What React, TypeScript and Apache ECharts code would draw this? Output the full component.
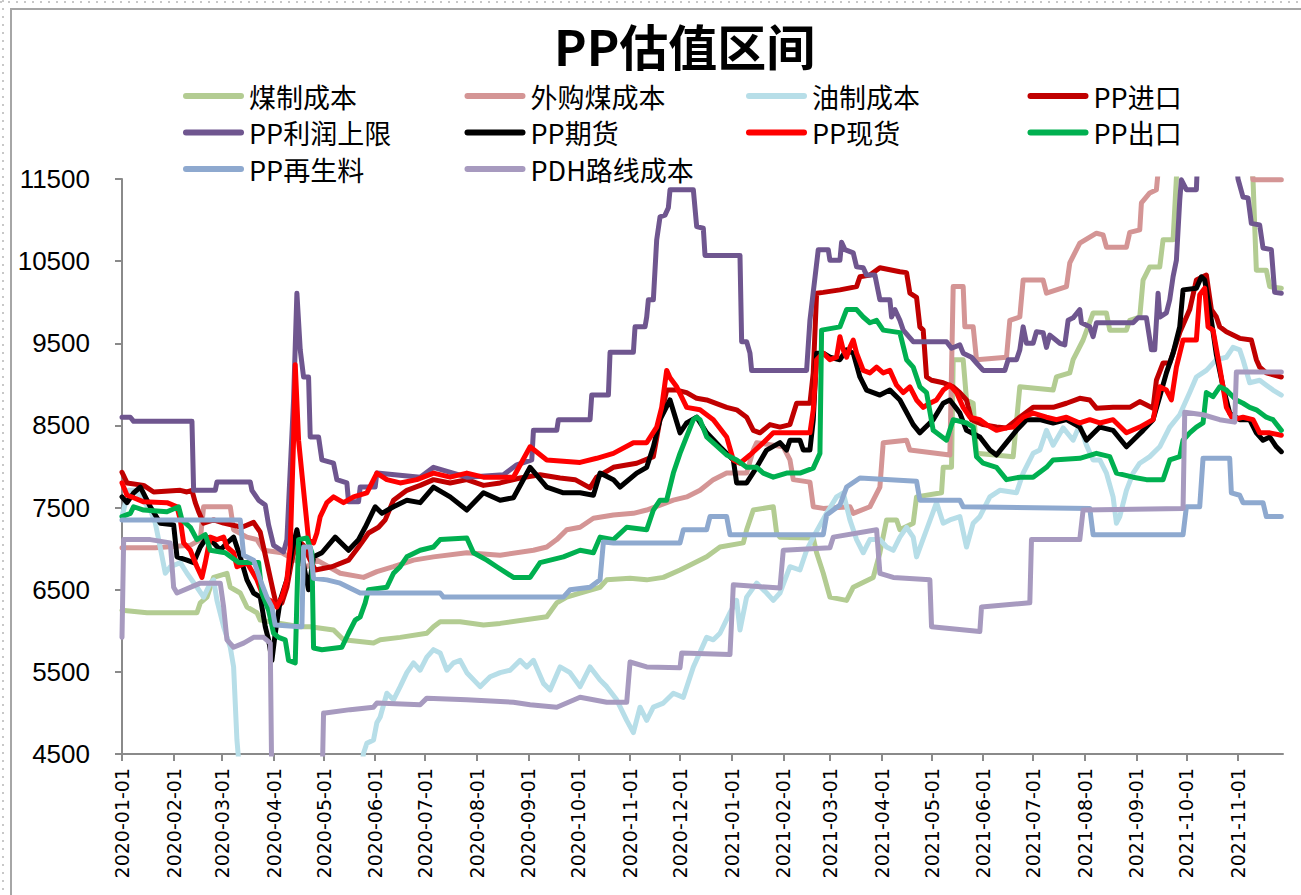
import React, { useEffect, useRef } from 'react';
import * as echarts from 'echarts';

const seriesNames = ['煤制成本', '外购煤成本', '油制成本', 'PP进口', 'PP利润上限', 'PP期货', 'PP现货', 'PP出口', 'PP再生料', 'PDH路线成本'];
const seriesColors = ['#B3CC92', '#D49595', '#B7DEE8', '#C00000', '#6F568F', '#000000', '#FF0000', '#00B050', '#8EA9CF', '#A79ABF'];
const yTickValues = [4500, 5500, 6500, 7500, 8500, 9500, 10500, 11500];
const xTickDates = ['2020-01-01', '2020-02-01', '2020-03-01', '2020-04-01', '2020-05-01', '2020-06-01', '2020-07-01', '2020-08-01', '2020-09-01', '2020-10-01', '2020-11-01', '2020-12-01', '2021-01-01', '2021-02-01', '2021-03-01', '2021-04-01', '2021-05-01', '2021-06-01', '2021-07-01', '2021-08-01', '2021-09-01', '2021-10-01', '2021-11-01'];
const xRange = ['2020-01-01', '2021-11-28'];

type P = [string, number];

const meizhiCost: P[] = [
  ['2020-01-01', 6250], ['2020-01-16', 6220], ['2020-02-15', 6220], ['2020-02-17', 6340], ['2020-02-21', 6410], ['2020-02-25', 6650], ['2020-03-04', 6700], ['2020-03-06', 6530], ['2020-03-12', 6460], ['2020-03-16', 6290], ['2020-03-22', 6220], ['2020-03-24', 6130], ['2020-04-17', 6050], ['2020-04-23', 6050], ['2020-05-07', 6010], ['2020-05-13', 5890], ['2020-05-31', 5850], ['2020-06-04', 5890], ['2020-06-16', 5920], ['2020-07-02', 5970], ['2020-07-06', 6050], ['2020-07-10', 6110], ['2020-07-22', 6110], ['2020-08-05', 6070], ['2020-08-15', 6090], ['2020-09-12', 6170], ['2020-09-18', 6340], ['2020-09-24', 6410], ['2020-10-02', 6460], ['2020-10-14', 6530], ['2020-10-18', 6620], ['2020-11-01', 6640], ['2020-11-11', 6620], ['2020-11-21', 6650], ['2020-12-01', 6740], ['2020-12-05', 6780], ['2020-12-17', 6900], ['2020-12-25', 7020], ['2021-01-08', 7070], ['2021-01-10', 7230], ['2021-01-14', 7470], ['2021-01-26', 7510], ['2021-01-28', 7190], ['2021-01-30', 7140], ['2021-02-19', 7130], ['2021-02-21', 6950], ['2021-02-25', 6700], ['2021-03-01', 6410], ['2021-03-11', 6370], ['2021-03-15', 6530], ['2021-03-27', 6650], ['2021-03-31', 6950], ['2021-04-04', 7350], ['2021-04-10', 7350], ['2021-04-12', 7230], ['2021-04-20', 7310], ['2021-04-22', 7630], ['2021-05-07', 7680], ['2021-05-08', 7990], ['2021-05-13', 7990], ['2021-05-14', 9300], ['2021-05-20', 9300], ['2021-05-22', 8810], ['2021-05-26', 8770], ['2021-05-28', 8160], ['2021-06-19', 8120], ['2021-06-23', 8970], ['2021-07-13', 8930], ['2021-07-15', 9090], ['2021-07-23', 9140], ['2021-07-25', 9300], ['2021-07-31', 9540], ['2021-08-06', 9870], ['2021-08-14', 9870], ['2021-08-16', 9660], ['2021-08-26', 9660], ['2021-08-28', 9780], ['2021-09-03', 9820], ['2021-09-05', 10270], ['2021-09-09', 10430], ['2021-09-15', 10430], ['2021-09-17', 10760], ['2021-09-23', 10760], ['2021-09-25', 11510], ['2021-09-26', 11900], ['2021-11-08', 11900], ['2021-11-10', 11490], ['2021-11-12', 10390], ['2021-11-18', 10390], ['2021-11-20', 10190], ['2021-11-27', 10170],
];

const waigouMeiCost: P[] = [
  ['2020-01-01', 7010], ['2020-01-21', 7010], ['2020-02-11', 7040], ['2020-02-17', 7110], ['2020-02-19', 7510], ['2020-03-06', 7510], ['2020-03-08', 7230], ['2020-03-16', 7140], ['2020-03-22', 7110], ['2020-03-26', 6980], ['2020-04-06', 6950], ['2020-04-21', 6780], ['2020-04-27', 6860], ['2020-05-11', 6700], ['2020-05-25', 6650], ['2020-06-02', 6720], ['2020-06-12', 6780], ['2020-06-24', 6860], ['2020-07-06', 6900], ['2020-07-26', 6950], ['2020-08-15', 6920], ['2020-09-04', 6980], ['2020-09-12', 7020], ['2020-09-18', 7110], ['2020-09-24', 7230], ['2020-10-02', 7260], ['2020-10-10', 7370], ['2020-10-22', 7410], ['2020-11-03', 7430], ['2020-11-11', 7470], ['2020-11-19', 7530], ['2020-11-27', 7590], ['2020-12-05', 7630], ['2020-12-13', 7710], ['2020-12-21', 7840], ['2020-12-29', 7920], ['2021-01-10', 7920], ['2021-01-14', 8200], ['2021-01-16', 8290], ['2021-02-01', 8240], ['2021-02-05', 8080], ['2021-02-07', 7840], ['2021-02-17', 7810], ['2021-02-19', 7510], ['2021-02-25', 7490], ['2021-03-13', 7510], ['2021-03-15', 7430], ['2021-03-25', 7510], ['2021-03-31', 7750], ['2021-04-02', 8290], ['2021-04-16', 8320], ['2021-04-18', 8200], ['2021-05-12', 8140], ['2021-05-14', 10190], ['2021-05-20', 10190], ['2021-05-21', 9700], ['2021-05-26', 9700], ['2021-05-28', 9300], ['2021-06-15', 9330], ['2021-06-17', 9780], ['2021-06-23', 9820], ['2021-06-25', 10270], ['2021-07-07', 10270], ['2021-07-09', 10110], ['2021-07-21', 10190], ['2021-07-23', 10480], ['2021-07-29', 10720], ['2021-08-08', 10840], ['2021-08-12', 10820], ['2021-08-14', 10670], ['2021-08-26', 10670], ['2021-08-28', 10850], ['2021-09-03', 10880], ['2021-09-04', 11210], ['2021-09-09', 11330], ['2021-09-13', 11370], ['2021-09-15', 11800], ['2021-11-09', 11800], ['2021-11-10', 11490], ['2021-11-27', 11490],
];

const youzhiCost: P[] = [
  ['2020-01-01', 7390], ['2020-01-05', 7710], ['2020-01-09', 7710], ['2020-01-18', 7470], ['2020-01-21', 7310], ['2020-01-23', 7110], ['2020-01-27', 6700], ['2020-01-30', 6780], ['2020-02-05', 6830], ['2020-02-09', 6700], ['2020-02-15', 6530], ['2020-02-19', 6410], ['2020-02-23', 6580], ['2020-02-25', 6620], ['2020-02-27', 6370], ['2020-03-02', 6050], ['2020-03-06', 5800], ['2020-03-08', 5560], ['2020-03-10', 4670], ['2020-03-12', 4200], ['2020-05-23', 4200], ['2020-05-25', 4510], ['2020-05-27', 4630], ['2020-05-31', 4670], ['2020-06-02', 4880], ['2020-06-04', 4950], ['2020-06-08', 5240], ['2020-06-12', 5160], ['2020-06-16', 5320], ['2020-06-20', 5490], ['2020-06-24', 5610], ['2020-06-28', 5520], ['2020-07-02', 5680], ['2020-07-06', 5770], ['2020-07-10', 5730], ['2020-07-14', 5520], ['2020-07-18', 5610], ['2020-07-22', 5640], ['2020-07-26', 5490], ['2020-08-03', 5320], ['2020-08-09', 5440], ['2020-08-15', 5490], ['2020-08-21', 5520], ['2020-08-27', 5640], ['2020-08-31', 5560], ['2020-09-04', 5640], ['2020-09-10', 5360], ['2020-09-14', 5280], ['2020-09-20', 5560], ['2020-09-26', 5490], ['2020-10-02', 5320], ['2020-10-08', 5560], ['2020-10-14', 5400], ['2020-10-18', 5320], ['2020-10-24', 5160], ['2020-10-30', 4910], ['2020-11-03', 4760], ['2020-11-07', 5070], ['2020-11-11', 4910], ['2020-11-15', 5070], ['2020-11-21', 5120], ['2020-11-27', 5240], ['2020-12-03', 5190], ['2020-12-09', 5560], ['2020-12-17', 5920], ['2020-12-21', 5890], ['2020-12-25', 5970], ['2020-12-31', 6220], ['2021-01-04', 6370], ['2021-01-06', 6010], ['2021-01-10', 6410], ['2021-01-16', 6580], ['2021-01-22', 6460], ['2021-01-26', 6370], ['2021-01-30', 6460], ['2021-02-05', 6780], ['2021-02-11', 6740], ['2021-02-15', 6980], ['2021-02-19', 7140], ['2021-02-27', 7430], ['2021-03-05', 7630], ['2021-03-09', 7680], ['2021-03-13', 7350], ['2021-03-17', 7110], ['2021-03-21', 6950], ['2021-03-25', 7110], ['2021-03-31', 7110], ['2021-04-04', 7020], ['2021-04-08', 6980], ['2021-04-12', 7140], ['2021-04-16', 7260], ['2021-04-20', 7140], ['2021-04-22', 6900], ['2021-04-28', 7230], ['2021-05-04', 7560], ['2021-05-08', 7310], ['2021-05-12', 7350], ['2021-05-18', 7390], ['2021-05-22', 7020], ['2021-05-26', 7310], ['2021-05-30', 7390], ['2021-06-05', 7630], ['2021-06-11', 7710], ['2021-06-21', 7680], ['2021-06-25', 7920], ['2021-07-01', 8160], ['2021-07-05', 8200], ['2021-07-09', 8440], ['2021-07-13', 8260], ['2021-07-19', 8470], ['2021-07-25', 8320], ['2021-07-29', 8510], ['2021-08-02', 8260], ['2021-08-06', 8080], ['2021-08-10', 8080], ['2021-08-14', 7920], ['2021-08-18', 7630], ['2021-08-20', 7310], ['2021-08-22', 7390], ['2021-08-26', 7710], ['2021-08-30', 7920], ['2021-09-03', 8040], ['2021-09-09', 8120], ['2021-09-15', 8240], ['2021-09-21', 8480], ['2021-09-27', 8630], ['2021-10-03', 8900], ['2021-10-07', 9090], ['2021-10-13', 9170], ['2021-10-19', 9300], ['2021-10-25', 9330], ['2021-10-29', 9450], ['2021-11-02', 9420], ['2021-11-04', 9300], ['2021-11-08', 9020], ['2021-11-14', 9050], ['2021-11-18', 8990], ['2021-11-22', 8930], ['2021-11-27', 8870],
];

const ppImport: P[] = [
  ['2020-01-01', 7930], ['2020-01-04', 7800], ['2020-01-14', 7770], ['2020-01-20', 7690], ['2020-02-05', 7710], ['2020-02-09', 7690], ['2020-02-12', 7710], ['2020-02-14', 7560], ['2020-02-16', 7450], ['2020-02-19', 7310], ['2020-02-25', 7350], ['2020-03-02', 7310], ['2020-03-13', 7260], ['2020-03-20', 7320], ['2020-03-24', 7200], ['2020-03-28', 6830], ['2020-04-01', 6460], ['2020-04-03', 6290], ['2020-04-06', 6340], ['2020-04-09', 6530], ['2020-04-12', 6860], ['2020-04-15', 7110], ['2020-04-19', 7040], ['2020-04-23', 6860], ['2020-04-26', 6740], ['2020-05-06', 6780], ['2020-05-16', 6860], ['2020-05-22', 7020], ['2020-05-28', 7190], ['2020-06-03', 7260], ['2020-06-07', 7350], ['2020-06-12', 7590], ['2020-06-20', 7710], ['2020-06-28', 7770], ['2020-07-06', 7840], ['2020-07-16', 7800], ['2020-07-26', 7840], ['2020-08-05', 7770], ['2020-08-15', 7800], ['2020-08-27', 7860], ['2020-09-08', 7900], ['2020-09-20', 7860], ['2020-09-29', 7840], ['2020-10-08', 7740], ['2020-10-12', 7870], ['2020-10-22', 7990], ['2020-11-05', 8040], ['2020-11-15', 8120], ['2020-11-19', 8570], ['2020-11-23', 8930], ['2020-11-29', 8930], ['2020-12-05', 8900], ['2020-12-11', 8830], ['2020-12-17', 8810], ['2020-12-29', 8720], ['2021-01-04', 8690], ['2021-01-10', 8600], ['2021-01-14', 8440], ['2021-01-18', 8410], ['2021-01-24', 8510], ['2021-01-30', 8480], ['2021-02-05', 8510], ['2021-02-09', 8770], ['2021-02-17', 8770], ['2021-02-19', 9140], ['2021-02-21', 10110], ['2021-02-25', 10120], ['2021-03-07', 10150], ['2021-03-17', 10190], ['2021-03-19', 10310], ['2021-03-25', 10330], ['2021-03-31', 10420], ['2021-04-12', 10370], ['2021-04-16', 10360], ['2021-04-18', 10110], ['2021-04-22', 10060], ['2021-04-24', 9700], ['2021-04-26', 9660], ['2021-04-28', 9090], ['2021-05-01', 9050], ['2021-05-08', 9020], ['2021-05-14', 8970], ['2021-05-18', 8900], ['2021-05-22', 8810], ['2021-05-25', 8570], ['2021-06-01', 8510], ['2021-06-09', 8480], ['2021-06-15', 8470], ['2021-06-23', 8600], ['2021-07-01', 8720], ['2021-07-13', 8720], ['2021-07-21', 8770], ['2021-07-29', 8830], ['2021-08-04', 8810], ['2021-08-08', 8710], ['2021-08-18', 8720], ['2021-08-28', 8720], ['2021-09-03', 8790], ['2021-09-11', 8710], ['2021-09-13', 9050], ['2021-09-17', 9260], ['2021-09-21', 9260], ['2021-09-23', 9380], ['2021-09-27', 9630], ['2021-10-03', 9910], ['2021-10-07', 10270], ['2021-10-13', 10330], ['2021-10-16', 9910], ['2021-10-19', 9820], ['2021-10-21', 9700], ['2021-10-25', 9640], ['2021-11-02', 9560], ['2021-11-09', 9540], ['2021-11-12', 9300], ['2021-11-14', 9210], ['2021-11-18', 9140], ['2021-11-27', 9090],
];

const ppProfitCap: P[] = [
  ['2020-01-01', 8600], ['2020-01-06', 8600], ['2020-01-08', 8550], ['2020-02-12', 8550], ['2020-02-13', 7710], ['2020-02-26', 7710], ['2020-02-27', 7810], ['2020-03-18', 7810], ['2020-03-19', 7710], ['2020-03-23', 7590], ['2020-03-27', 7530], ['2020-03-29', 7290], ['2020-04-01', 7040], ['2020-04-07', 6960], ['2020-04-09', 7110], ['2020-04-13', 8810], ['2020-04-15', 10110], ['2020-04-17', 9420], ['2020-04-19', 9090], ['2020-04-22', 9090], ['2020-04-23', 8360], ['2020-04-28', 8360], ['2020-04-30', 8080], ['2020-05-07', 8040], ['2020-05-09', 7840], ['2020-05-15', 7800], ['2020-05-16', 7570], ['2020-05-22', 7570], ['2020-05-23', 7750], ['2020-06-01', 7750], ['2020-06-02', 7920], ['2020-06-28', 7870], ['2020-07-06', 7990], ['2020-07-26', 7870], ['2020-08-17', 7900], ['2020-08-25', 8020], ['2020-09-03', 8080], ['2020-09-04', 8440], ['2020-09-18', 8440], ['2020-09-19', 8570], ['2020-10-08', 8570], ['2020-10-09', 8870], ['2020-10-19', 8870], ['2020-10-20', 9390], ['2020-11-03', 9390], ['2020-11-04', 9700], ['2020-11-10', 9700], ['2020-11-11', 9820], ['2020-11-12', 10030], ['2020-11-15', 10030], ['2020-11-17', 10760], ['2020-11-19', 11040], ['2020-11-22', 11060], ['2020-11-24', 11150], ['2020-11-25', 11370], ['2020-12-09', 11370], ['2020-12-11', 10920], ['2020-12-15', 10900], ['2020-12-16', 10570], ['2021-01-06', 10570], ['2021-01-07', 9520], ['2021-01-10', 9520], ['2021-01-12', 9380], ['2021-01-13', 9170], ['2021-02-15', 9170], ['2021-02-17', 9780], ['2021-02-22', 10640], ['2021-02-28', 10640], ['2021-03-01', 10510], ['2021-03-07', 10510], ['2021-03-08', 10730], ['2021-03-10', 10640], ['2021-03-15', 10600], ['2021-03-17', 10430], ['2021-03-21', 10420], ['2021-03-23', 10330], ['2021-03-28', 10330], ['2021-03-31', 10030], ['2021-04-06', 10030], ['2021-04-07', 9820], ['2021-04-09', 9910], ['2021-04-12', 9780], ['2021-04-14', 9660], ['2021-04-20', 9520], ['2021-05-10', 9520], ['2021-05-13', 9440], ['2021-05-18', 9480], ['2021-05-20', 9380], ['2021-05-25', 9330], ['2021-05-28', 9260], ['2021-06-01', 9170], ['2021-06-14', 9170], ['2021-06-16', 9300], ['2021-06-21', 9300], ['2021-06-23', 9420], ['2021-06-25', 9700], ['2021-06-27', 9500], ['2021-07-01', 9500], ['2021-07-03', 9640], ['2021-07-07', 9630], ['2021-07-09', 9450], ['2021-07-11', 9600], ['2021-07-17', 9500], ['2021-07-20', 9480], ['2021-07-22', 9780], ['2021-07-25', 9810], ['2021-07-29', 9910], ['2021-07-30', 9750], ['2021-08-04', 9700], ['2021-08-06', 9580], ['2021-08-08', 9750], ['2021-08-30', 9750], ['2021-09-02', 9810], ['2021-09-07', 9810], ['2021-09-10', 9420], ['2021-09-12', 9420], ['2021-09-14', 10110], ['2021-09-15', 9820], ['2021-09-19', 9870], ['2021-09-21', 10030], ['2021-09-23', 10310], ['2021-09-25', 10510], ['2021-09-27', 11240], ['2021-09-28', 11490], ['2021-10-01', 11370], ['2021-10-07', 11370], ['2021-10-08', 11900], ['2021-10-30', 11900], ['2021-11-01', 11500], ['2021-11-04', 11280], ['2021-11-07', 11270], ['2021-11-09', 10960], ['2021-11-14', 10940], ['2021-11-16', 10660], ['2021-11-21', 10640], ['2021-11-23', 10120], ['2021-11-27', 10110],
];

const ppFutures: P[] = [
  ['2020-01-01', 7630], ['2020-01-04', 7560], ['2020-01-08', 7680], ['2020-01-12', 7750], ['2020-01-15', 7630], ['2020-01-18', 7510], ['2020-01-24', 7310], ['2020-02-01', 7290], ['2020-02-03', 6900], ['2020-02-09', 6860], ['2020-02-13', 6830], ['2020-02-17', 7020], ['2020-02-21', 7140], ['2020-02-25', 7070], ['2020-02-29', 6980], ['2020-03-04', 7070], ['2020-03-08', 7140], ['2020-03-12', 6900], ['2020-03-16', 6620], ['2020-03-20', 6460], ['2020-03-24', 6410], ['2020-03-27', 6050], ['2020-03-29', 5890], ['2020-03-31', 5640], ['2020-04-02', 5970], ['2020-04-05', 6370], ['2020-04-09', 6620], ['2020-04-12', 6980], ['2020-04-15', 7230], ['2020-04-17', 7020], ['2020-04-20', 6700], ['2020-04-22', 6500], ['2020-04-25', 6900], ['2020-04-30', 6950], ['2020-05-08', 7140], ['2020-05-16', 6980], ['2020-05-22', 7110], ['2020-05-26', 7260], ['2020-06-01', 7510], ['2020-06-05', 7430], ['2020-06-12', 7510], ['2020-06-20', 7590], ['2020-06-28', 7560], ['2020-07-06', 7750], ['2020-07-16', 7630], ['2020-07-26', 7470], ['2020-08-05', 7680], ['2020-08-15', 7590], ['2020-08-23', 7620], ['2020-09-02', 7990], ['2020-09-12', 7750], ['2020-09-22', 7680], ['2020-10-02', 7680], ['2020-10-10', 7650], ['2020-10-14', 7920], ['2020-10-22', 7840], ['2020-10-26', 7750], ['2020-11-05', 7920], ['2020-11-11', 7990], ['2020-11-15', 8240], ['2020-11-19', 8570], ['2020-11-25', 8810], ['2020-12-01', 8410], ['2020-12-05', 8530], ['2020-12-11', 8600], ['2020-12-17', 8410], ['2020-12-25', 8240], ['2021-01-02', 8080], ['2021-01-04', 7800], ['2021-01-10', 7800], ['2021-01-16', 7990], ['2021-01-22', 8200], ['2021-01-30', 8290], ['2021-02-03', 8200], ['2021-02-05', 8320], ['2021-02-11', 8320], ['2021-02-13', 8200], ['2021-02-17', 8200], ['2021-02-19', 8570], ['2021-02-21', 9380], ['2021-02-25', 9380], ['2021-03-01', 9330], ['2021-03-07', 9300], ['2021-03-11', 9420], ['2021-03-15', 9380], ['2021-03-19', 9090], ['2021-03-23', 8930], ['2021-03-31', 8870], ['2021-04-06', 8930], ['2021-04-12', 8810], ['2021-04-20', 8510], ['2021-04-24', 8410], ['2021-05-02', 8570], ['2021-05-08', 8770], ['2021-05-12', 8810], ['2021-05-18', 8650], ['2021-05-22', 8440], ['2021-05-30', 8360], ['2021-06-05', 8200], ['2021-06-09', 8140], ['2021-06-15', 8290], ['2021-06-21', 8440], ['2021-06-27', 8570], ['2021-07-05', 8570], ['2021-07-13', 8530], ['2021-07-21', 8570], ['2021-07-29', 8480], ['2021-08-02', 8320], ['2021-08-10', 8480], ['2021-08-18', 8440], ['2021-08-26', 8240], ['2021-08-30', 8320], ['2021-09-05', 8440], ['2021-09-11', 8570], ['2021-09-15', 8850], ['2021-09-19', 9140], ['2021-09-23', 9380], ['2021-09-27', 9700], ['2021-09-29', 10150], ['2021-10-07', 10170], ['2021-10-10', 10310], ['2021-10-12', 10270], ['2021-10-16', 9780], ['2021-10-19', 9360], ['2021-10-23', 8970], ['2021-10-27', 8650], ['2021-11-02', 8570], ['2021-11-08', 8570], ['2021-11-12', 8410], ['2021-11-16', 8320], ['2021-11-20', 8360], ['2021-11-24', 8240], ['2021-11-27', 8180],
];

const ppSpot: P[] = [
  ['2020-01-01', 7800], ['2020-01-04', 7650], ['2020-01-08', 7620], ['2020-01-14', 7570], ['2020-01-28', 7560], ['2020-02-03', 7510], ['2020-02-05', 7350], ['2020-02-07', 7070], ['2020-02-11', 6980], ['2020-02-15', 6780], ['2020-02-18', 6650], ['2020-02-20', 6830], ['2020-02-23', 7140], ['2020-02-27', 7110], ['2020-03-02', 7140], ['2020-03-04', 7020], ['2020-03-08', 6950], ['2020-03-10', 6780], ['2020-03-16', 6830], ['2020-03-22', 6620], ['2020-03-26', 6410], ['2020-03-30', 6370], ['2020-04-03', 6290], ['2020-04-06', 6410], ['2020-04-09', 6620], ['2020-04-11', 7020], ['2020-04-13', 8320], ['2020-04-14', 9240], ['2020-04-16', 8320], ['2020-04-19', 7710], ['2020-04-22', 7110], ['2020-04-25', 7070], ['2020-04-27', 7190], ['2020-04-29', 7390], ['2020-05-03', 7560], ['2020-05-07', 7630], ['2020-05-13', 7560], ['2020-05-19', 7630], ['2020-05-27', 7680], ['2020-06-02', 7920], ['2020-06-08', 7840], ['2020-06-16', 7800], ['2020-06-26', 7840], ['2020-07-06', 7920], ['2020-07-16', 7870], ['2020-07-26', 7920], ['2020-08-05', 7870], ['2020-08-15', 7870], ['2020-08-23', 7870], ['2020-09-02', 8240], ['2020-09-12', 8080], ['2020-10-02', 8050], ['2020-10-12', 8100], ['2020-10-22', 8160], ['2020-11-03', 8290], ['2020-11-11', 8290], ['2020-11-17', 8480], ['2020-11-20', 8720], ['2020-11-23', 9170], ['2020-11-25', 9080], ['2020-11-29', 8970], ['2020-12-05', 8720], ['2020-12-13', 8690], ['2020-12-21', 8570], ['2020-12-29', 8360], ['2021-01-02', 8080], ['2021-01-06', 8040], ['2021-01-12', 8140], ['2021-01-20', 8290], ['2021-01-26', 8410], ['2021-02-17', 8410], ['2021-02-19', 8690], ['2021-02-21', 9300], ['2021-02-25', 9380], ['2021-03-01', 9300], ['2021-03-05', 9330], ['2021-03-07', 9580], ['2021-03-09', 9420], ['2021-03-11', 9330], ['2021-03-13', 9450], ['2021-03-15', 9540], ['2021-03-17', 9380], ['2021-03-21', 9170], ['2021-03-25', 9140], ['2021-03-29', 9210], ['2021-04-02', 9140], ['2021-04-06', 9170], ['2021-04-10', 8990], ['2021-04-14', 8900], ['2021-04-18', 8970], ['2021-04-22', 8810], ['2021-04-26', 8720], ['2021-04-30', 8770], ['2021-05-04', 8810], ['2021-05-08', 8930], ['2021-05-12', 8990], ['2021-05-16', 8900], ['2021-05-20', 8720], ['2021-05-24', 8600], ['2021-05-30', 8570], ['2021-06-03', 8510], ['2021-06-09', 8440], ['2021-06-15', 8470], ['2021-06-19', 8480], ['2021-06-25', 8600], ['2021-07-01', 8650], ['2021-07-09', 8600], ['2021-07-15', 8570], ['2021-07-21', 8600], ['2021-07-29', 8530], ['2021-08-04', 8570], ['2021-08-10', 8530], ['2021-08-18', 8570], ['2021-08-26', 8410], ['2021-09-03', 8480], ['2021-09-11', 8570], ['2021-09-15', 8970], ['2021-09-19', 8930], ['2021-09-22', 8810], ['2021-09-25', 9210], ['2021-09-29', 9540], ['2021-10-07', 9540], ['2021-10-09', 10090], ['2021-10-12', 10170], ['2021-10-14', 9700], ['2021-10-17', 9660], ['2021-10-21', 9210], ['2021-10-25', 8720], ['2021-10-29', 8570], ['2021-11-04', 8600], ['2021-11-10', 8570], ['2021-11-14', 8410], ['2021-11-20', 8410], ['2021-11-27', 8380],
];

const ppExport: P[] = [
  ['2020-01-01', 7390], ['2020-01-06', 7430], ['2020-01-08', 7510], ['2020-01-14', 7470], ['2020-01-28', 7450], ['2020-02-04', 7510], ['2020-02-06', 7350], ['2020-02-11', 7260], ['2020-02-15', 7110], ['2020-02-20', 7170], ['2020-02-23', 6980], ['2020-03-03', 6950], ['2020-03-11', 6830], ['2020-03-23', 6830], ['2020-03-25', 6460], ['2020-03-29', 6250], ['2020-04-01', 5970], ['2020-04-04', 5920], ['2020-04-08', 5890], ['2020-04-10', 5640], ['2020-04-14', 5610], ['2020-04-15', 6370], ['2020-04-16', 7110], ['2020-04-21', 7130], ['2020-04-24', 6950], ['2020-04-25', 5790], ['2020-04-30', 5770], ['2020-05-12', 5800], ['2020-05-16', 5970], ['2020-05-20', 6130], ['2020-05-23', 6170], ['2020-05-26', 6340], ['2020-05-28', 6500], ['2020-06-08', 6530], ['2020-06-12', 6700], ['2020-06-16', 6780], ['2020-06-20', 6900], ['2020-06-28', 6980], ['2020-07-06', 7020], ['2020-07-10', 7110], ['2020-07-26', 7130], ['2020-07-30', 6950], ['2020-08-07', 6860], ['2020-08-13', 6780], ['2020-08-23', 6650], ['2020-09-02', 6650], ['2020-09-08', 6830], ['2020-09-22', 6900], ['2020-10-02', 6980], ['2020-10-10', 6950], ['2020-10-14', 7140], ['2020-10-22', 7110], ['2020-10-30', 7260], ['2020-11-11', 7230], ['2020-11-15', 7470], ['2020-11-19', 7590], ['2020-11-23', 7590], ['2020-11-27', 7920], ['2020-12-01', 8160], ['2020-12-09', 8570], ['2020-12-11', 8600], ['2020-12-13', 8570], ['2020-12-17', 8360], ['2020-12-29', 8140], ['2021-01-04', 8080], ['2021-01-10', 7990], ['2021-01-16', 7990], ['2021-01-20', 7920], ['2021-01-26', 7870], ['2021-02-03', 7920], ['2021-02-11', 7920], ['2021-02-19', 7980], ['2021-02-23', 8160], ['2021-02-24', 9660], ['2021-03-07', 9700], ['2021-03-11', 9910], ['2021-03-17', 9910], ['2021-03-21', 9820], ['2021-03-25', 9750], ['2021-03-29', 9780], ['2021-04-02', 9660], ['2021-04-12', 9630], ['2021-04-16', 9300], ['2021-04-20', 9210], ['2021-04-24', 8970], ['2021-04-28', 8900], ['2021-05-02', 8440], ['2021-05-10', 8320], ['2021-05-14', 8570], ['2021-05-22', 8530], ['2021-05-26', 8480], ['2021-05-28', 8120], ['2021-06-01', 8040], ['2021-06-09', 7990], ['2021-06-15', 7840], ['2021-06-23', 7870], ['2021-07-01', 7870], ['2021-07-09', 7990], ['2021-07-13', 8080], ['2021-07-29', 8100], ['2021-08-08', 8160], ['2021-08-16', 8120], ['2021-08-20', 7920], ['2021-08-30', 7870], ['2021-09-07', 7840], ['2021-09-17', 7840], ['2021-09-21', 8080], ['2021-09-27', 8120], ['2021-09-29', 8320], ['2021-10-03', 8410], ['2021-10-07', 8480], ['2021-10-11', 8530], ['2021-10-13', 8900], ['2021-10-17', 8850], ['2021-10-21', 8970], ['2021-10-25', 8930], ['2021-10-31', 8810], ['2021-11-04', 8770], ['2021-11-08', 8720], ['2021-11-12', 8690], ['2021-11-18', 8600], ['2021-11-22', 8570], ['2021-11-27', 8440],
];

const ppRecycled: P[] = [
  ['2020-01-01', 7350], ['2020-03-12', 7350], ['2020-03-14', 6920], ['2020-03-20', 6860], ['2020-03-24', 6620], ['2020-03-28', 6410], ['2020-03-31', 6290], ['2020-04-02', 6070], ['2020-04-17', 6050], ['2020-04-18', 6050], ['2020-04-19', 7020], ['2020-04-23', 7020], ['2020-04-25', 6640], ['2020-05-03', 6620], ['2020-05-11', 6580], ['2020-05-19', 6500], ['2020-05-23', 6460], ['2020-07-10', 6460], ['2020-07-12', 6410], ['2020-09-22', 6410], ['2020-09-26', 6500], ['2020-10-08', 6530], ['2020-10-14', 6620], ['2020-10-16', 7080], ['2020-10-22', 7070], ['2020-12-01', 7070], ['2020-12-03', 7230], ['2020-12-17', 7230], ['2020-12-19', 7390], ['2020-12-29', 7390], ['2020-12-31', 7170], ['2021-02-25', 7170], ['2021-02-27', 7410], ['2021-03-07', 7530], ['2021-03-11', 7750], ['2021-03-19', 7860], ['2021-04-22', 7820], ['2021-04-24', 7590], ['2021-05-18', 7590], ['2021-05-20', 7510], ['2021-08-04', 7490], ['2021-08-06', 7170], ['2021-09-29', 7170], ['2021-10-01', 7510], ['2021-10-09', 7510], ['2021-10-11', 8100], ['2021-10-27', 8100], ['2021-10-28', 7680], ['2021-11-02', 7650], ['2021-11-04', 7560], ['2021-11-16', 7560], ['2021-11-18', 7390], ['2021-11-27', 7390],
];

const pdhCost: P[] = [
  ['2020-01-01', 5920], ['2020-01-02', 7110], ['2020-01-18', 7110], ['2020-01-30', 7070], ['2020-02-01', 6530], ['2020-02-03', 6460], ['2020-02-17', 6580], ['2020-02-29', 6580], ['2020-03-02', 6290], ['2020-03-04', 5890], ['2020-03-08', 5800], ['2020-03-14', 5850], ['2020-03-20', 5920], ['2020-03-26', 5920], ['2020-03-30', 5850], ['2020-03-31', 4000], ['2020-04-30', 4000], ['2020-05-01', 5000], ['2020-05-02', 5000], ['2020-05-17', 5040], ['2020-05-31', 5070], ['2020-06-02', 5120], ['2020-06-28', 5100], ['2020-07-02', 5180], ['2020-07-26', 5160], ['2020-08-23', 5130], ['2020-09-02', 5100], ['2020-09-18', 5070], ['2020-10-02', 5190], ['2020-10-18', 5130], ['2020-10-30', 5130], ['2020-11-01', 5620], ['2020-11-11', 5560], ['2020-12-01', 5550], ['2020-12-02', 5730], ['2020-12-31', 5710], ['2021-01-02', 6560], ['2021-01-30', 6520], ['2021-02-01', 6980], ['2021-03-01', 7010], ['2021-03-03', 7140], ['2021-03-29', 7230], ['2021-03-31', 6700], ['2021-04-08', 6650], ['2021-04-30', 6620], ['2021-05-01', 6050], ['2021-05-30', 5990], ['2021-05-31', 6290], ['2021-06-29', 6340], ['2021-06-30', 7110], ['2021-07-29', 7110], ['2021-07-31', 7470], ['2021-09-29', 7490], ['2021-09-30', 8660], ['2021-10-11', 8630], ['2021-10-21', 8570], ['2021-10-30', 8540], ['2021-10-31', 9150], ['2021-11-10', 9150], ['2021-11-27', 9150],
];

const seriesData: P[][] = [meizhiCost, waigouMeiCost, youzhiCost, ppImport, ppProfitCap, ppFutures, ppSpot, ppExport, ppRecycled, pdhCost];

const toTime = (s: string) => {
  const [y, m, d] = s.split('-').map(Number);
  return Date.UTC(y, m - 1, d);
};
const pad = (n: number) => (n < 10 ? '0' + n : '' + n);
const fmtDate = (v: number) => {
  const d = new Date(v);
  return d.getUTCFullYear() + '-' + pad(d.getUTCMonth() + 1) + '-' + pad(d.getUTCDate());
};

export default function App() {
  const ref = useRef<HTMLDivElement>(null);
  useEffect(() => {
    if (!ref.current) return;
    const chart = echarts.init(ref.current, undefined, { renderer: 'svg' });
    const iconPath = 'path://M3,0 L58,0 A3,3 0 0 1 58,6 L3,6 A3,3 0 0 1 3,0 Z';
    const xTicks = xTickDates.map(toTime);
    const legends = seriesNames.map((name, i) => ({
      data: [name],
      left: 183 + (i % 4) * 281.5,
      top: 81 + Math.floor(i / 4) * 36.5,
      padding: 0,
      icon: iconPath,
      itemWidth: 61,
      itemHeight: 6,
      itemStyle: { borderWidth: 0 },
      selectedMode: false,
      textStyle: { fontSize: 27, lineHeight: 30, color: '#000', fontFamily: 'Noto Sans CJK SC' },
    }));
    const axisColor = '#8A8A8A';
    const option: any = {
      animation: false,
      backgroundColor: '#ffffff',
      title: {
        text: 'PP估值区间',
        left: 554,
        top: 20,
        padding: 0,
        textStyle: { fontSize: 49, fontWeight: 'bold', color: '#000', fontFamily: 'Noto Sans CJK SC' },
      },
      legend: legends,
      grid: { left: 122, right: 18, top: 179, bottom: 141, containLabel: false, outerBoundsMode: 'none' },
      xAxis: {
        type: 'value',
        min: toTime(xRange[0]),
        max: toTime(xRange[1]),
        axisLine: { show: true, onZero: false, lineStyle: { color: axisColor, width: 2 } },
        axisTick: { show: true, customValues: xTicks, length: 7, lineStyle: { color: axisColor, width: 2 } },
        axisLabel: {
          customValues: xTicks,
          rotate: 90,
          margin: 14,
          fontSize: 19,
          fontFamily: 'DejaVu Sans',
          color: '#000',
          formatter: (v: number) => fmtDate(v),
        },
        splitLine: { show: false },
      },
      yAxis: {
        type: 'value',
        min: 4500,
        max: 11500,
        axisLine: { show: true, onZero: false, lineStyle: { color: axisColor, width: 2 } },
        axisTick: { show: true, customValues: yTickValues, length: 7, lineStyle: { color: axisColor, width: 2 } },
        axisLabel: {
          customValues: yTickValues,
          margin: 32,
          fontSize: 26,
          fontFamily: 'Liberation Sans',
          color: '#000',
          formatter: (v: number) => String(v),
        },
        splitLine: { show: false },
      },
      graphic: [
        { type: 'line', shape: { x1: 0, y1: 2, x2: 1301, y2: 2 }, style: { stroke: '#C8C8C8', lineWidth: 2, lineDash: [2, 6] }, silent: true },
        { type: 'line', shape: { x1: 3, y1: 0, x2: 3, y2: 895 }, style: { stroke: '#C8C8C8', lineWidth: 2, lineDash: [2, 6] }, silent: true },
        { type: 'rect', shape: { x: 11, y: 9, width: 1310, height: 910 }, style: { fill: 'none', stroke: '#A6A6A6', lineWidth: 2 }, silent: true },
      ],
      series: seriesNames.map((name, i) => ({
        name,
        type: 'line',
        data: seriesData[i].map(([d, v]) => [toTime(d), v]),
        symbol: 'none',
        showSymbol: false,
        clip: true,
        silent: true,
        color: seriesColors[i],
        itemStyle: { color: seriesColors[i] },
        lineStyle: { color: seriesColors[i], width: 5, join: 'round', cap: 'round' },
        emphasis: { disabled: true },
      })),
    };
    chart.setOption(option);
    return () => chart.dispose();
  }, []);
  return <div ref={ref} style={{ position: 'absolute', left: 0, top: 0, width: 1301, height: 895 }} />;
}
